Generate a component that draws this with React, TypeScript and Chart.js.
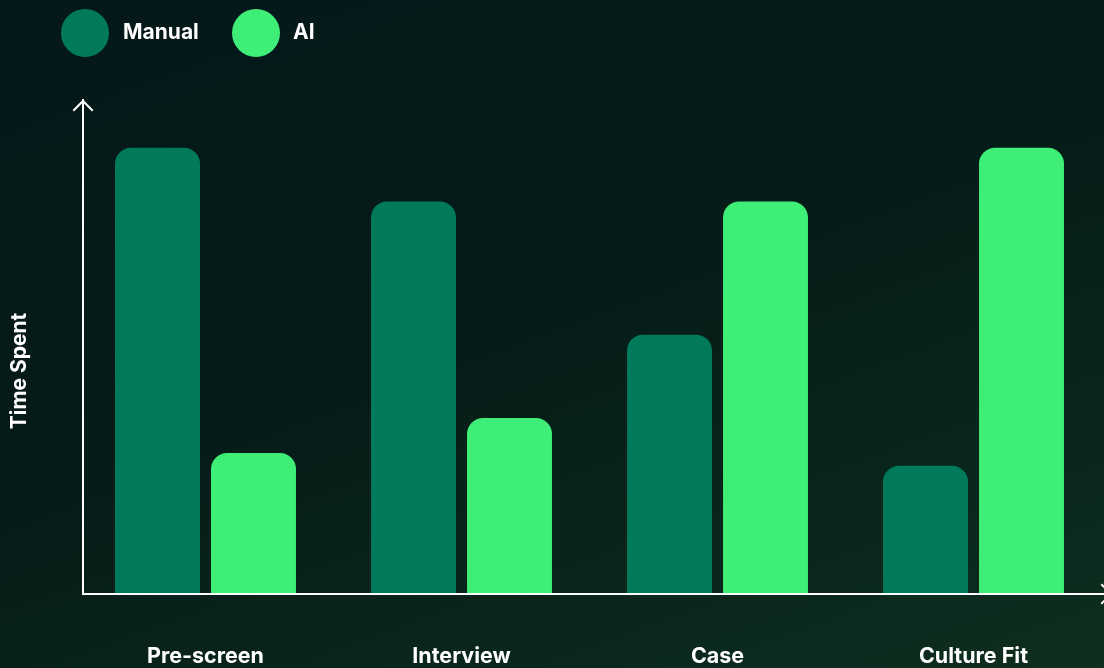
import React, { useEffect, useRef } from "react";
import { Chart, registerables } from "chart.js";

Chart.register(...registerables);

const categories = ["Pre-screen", "Interview", "Case", "Culture Fit"];
const manualValues = [90.3, 79.4, 52.4, 25.8];
const aiValues = [28.4, 35.5, 79.4, 90.3];
const seriesNames = ["Manual", "AI"];
const seriesColors = ["#007a5a", "#3fee77"];
const yAxisTitle = "Time Spent";

const FONT = "Inter, 'Noto Sans', sans-serif";

const decorPlugin = {
  id: "decor",
  afterDraw(chart: any) {
    const { ctx, chartArea } = chart;
    const x0 = 83;
    const yBase = chartArea.bottom + 1;
    ctx.save();
    ctx.strokeStyle = "#ffffff";
    ctx.lineWidth = 2;
    ctx.lineCap = "square";
    // y axis
    ctx.beginPath();
    ctx.moveTo(x0, yBase);
    ctx.lineTo(x0, chartArea.top);
    ctx.stroke();
    ctx.beginPath();
    ctx.moveTo(x0 - 9, chartArea.top + 10);
    ctx.lineTo(x0, chartArea.top + 1);
    ctx.lineTo(x0 + 9, chartArea.top + 10);
    ctx.stroke();
    // x axis
    const xEnd = 1112;
    ctx.beginPath();
    ctx.moveTo(x0, yBase);
    ctx.lineTo(xEnd, yBase);
    ctx.stroke();
    ctx.beginPath();
    ctx.moveTo(xEnd - 10, yBase - 9);
    ctx.lineTo(xEnd, yBase);
    ctx.lineTo(xEnd - 10, yBase + 9);
    ctx.stroke();

    // x category labels
    const xScale = chart.scales.x;
    ctx.fillStyle = "#ffffff";
    ctx.font = `bold 21.5px ${FONT}`;
    ctx.textAlign = "center";
    ctx.textBaseline = "middle";
    categories.forEach((c, i) => {
      ctx.fillText(c, xScale.getPixelForValue(i), 657);
    });

    // y title
    ctx.font = `bold 21px ${FONT}`;
    ctx.translate(20, 371);
    ctx.rotate(-Math.PI / 2);
    ctx.fillText(yAxisTitle, 0, 0);
    ctx.restore();

    // legend
    ctx.save();
    const legendPos = [
      { cx: 85, tx: 123 },
      { cx: 256, tx: 293 },
    ];
    ctx.font = `bold 21px ${FONT}`;
    ctx.textBaseline = "middle";
    ctx.textAlign = "left";
    seriesNames.forEach((name, i) => {
      ctx.fillStyle = seriesColors[i];
      ctx.beginPath();
      ctx.arc(legendPos[i].cx, 33, 24, 0, Math.PI * 2);
      ctx.fill();
      ctx.fillStyle = "#ffffff";
      ctx.fillText(name, legendPos[i].tx, 33);
    });
    ctx.restore();
  },
};

export default function App() {
  const ref = useRef<HTMLCanvasElement>(null);
  useEffect(() => {
    if (!ref.current) return;
    const chart = new Chart(ref.current, {
      type: "bar",
      data: {
        labels: categories,
        datasets: [
          {
            label: seriesNames[0],
            data: manualValues,
            backgroundColor: seriesColors[0],
            borderRadius: 16,
            borderSkipped: "bottom",
            barPercentage: 0.885,
            categoryPercentage: 0.75,
          },
          {
            label: seriesNames[1],
            data: aiValues,
            backgroundColor: seriesColors[1],
            borderRadius: 16,
            borderSkipped: "bottom",
            barPercentage: 0.885,
            categoryPercentage: 0.75,
          },
        ],
      },
      options: {
        animation: false,
        responsive: false,
        maintainAspectRatio: false,
        layout: { padding: { left: 77.5, right: 2.5, top: 100, bottom: 75 } },
        plugins: { legend: { display: false }, tooltip: { enabled: false } },
        scales: {
          x: {
            display: false,
            grid: { display: false },
          },
          y: {
            display: false,
            min: 0,
            max: 100,
          },
        },
      },
      plugins: [decorPlugin],
    });
    return () => chart.destroy();
  }, []);
  return (
    <div
      style={{
        position: "fixed",
        left: 0,
        top: 0,
        width: 1104,
        height: 668,
        background: "linear-gradient(160deg, #05181a 0%, #061c18 50%, #0e2e1f 100%)",
        overflow: "hidden",
      }}
    >
      <canvas ref={ref} width={1104} height={668} style={{ display: "block" }} />
    </div>
  );
}
